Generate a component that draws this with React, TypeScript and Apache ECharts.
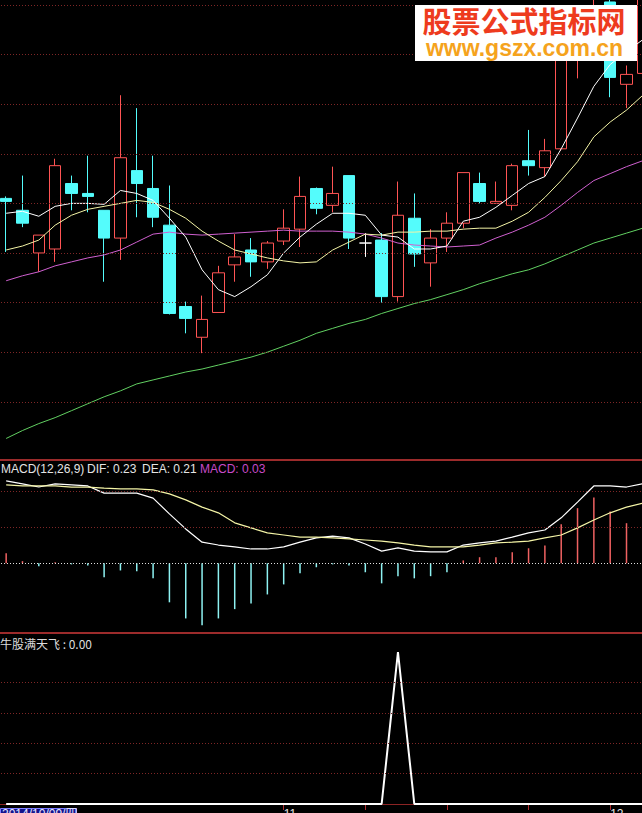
import React, { useEffect, useRef } from "react";
import * as echarts from "echarts";

const dates = [
  "2014/10/09", "2014/10/10", "2014/10/13", "2014/10/14", "2014/10/15", "2014/10/16", "2014/10/17",
  "2014/10/20", "2014/10/21", "2014/10/22", "2014/10/23", "2014/10/24", "2014/10/27", "2014/10/28",
  "2014/10/29", "2014/10/30", "2014/10/31", "2014/11/03", "2014/11/04", "2014/11/05", "2014/11/06",
  "2014/11/07", "2014/11/10", "2014/11/11", "2014/11/12", "2014/11/13", "2014/11/14", "2014/11/17",
  "2014/11/18", "2014/11/19", "2014/11/20", "2014/11/21", "2014/11/24", "2014/11/25", "2014/11/26",
  "2014/11/27", "2014/11/28", "2014/12/01", "2014/12/02", "2014/12/03",
];

const kOpen = [
  12.05, 11.93, 11.5, 11.54, 12.2, 12.1, 11.93, 11.65, 12.33, 12.15,
  11.78, 10.96, 10.65, 10.9, 11.38, 11.53, 11.41, 11.62, 11.74, 12.15,
  11.98, 12.28, 11.6, 11.63, 11.06, 11.85, 11.4, 11.65, 11.8, 12.2,
  12.0, 11.98, 12.43, 12.36, 12.55, 13.47, 13.6, 14.03, 13.2, 13.31,
];
const kClose = [
  12.02, 11.8, 11.68, 12.38, 12.1, 12.07, 11.65, 12.46, 12.2, 11.86,
  10.89, 10.84, 10.83, 11.3, 11.46, 11.41, 11.6, 11.75, 12.07, 11.95,
  12.1, 11.65, 11.6, 11.06, 11.88, 11.49, 11.65, 11.8, 12.31, 12.02,
  12.02, 12.38, 12.38, 12.53, 13.45, 13.58, 13.99, 13.27, 13.3, 14.15,
];
const kLow = [
  11.51, 11.76, 11.31, 11.41, 11.93, 11.91, 11.21, 11.43, 11.86, 11.76,
  10.88, 10.69, 10.49, 10.9, 11.21, 11.26, 11.34, 11.58, 11.56, 11.89,
  11.91, 11.54, 11.46, 11.0, 11.01, 11.36, 11.16, 11.51, 11.75, 12.0,
  12.0, 11.93, 12.28, 12.27, 12.53, 13.26, 13.55, 13.07, 12.96, 13.24,
];
const kHigh = [
  12.07, 12.28, 11.68, 12.45, 12.28, 12.48, 11.93, 13.09, 12.96, 12.48,
  12.18, 11.01, 11.07, 11.37, 11.69, 11.65, 11.62, 11.94, 12.27, 12.16,
  12.37, 12.28, 11.7, 11.7, 12.22, 12.1, 11.74, 11.91, 12.31, 12.31,
  12.22, 12.4, 12.74, 12.65, 13.5, 13.75, 14.1, 14.13, 13.39, 14.2,
];

const ma5 = [
  11.9, 11.92, 11.87, 11.97, 12.0, 12.0, 11.99, 12.13, 12.1, 12.03,
  11.85, 11.66, 11.33, 11.13, 11.06, 11.16, 11.28, 11.5, 11.66, 11.79,
  11.9, 11.9, 11.88, 11.68, 11.66, 11.54, 11.54, 11.57, 11.82, 11.86,
  11.96, 12.08, 12.2, 12.27, 12.55, 12.86, 13.18, 13.4, 13.53, 13.65,
];
const ma10 = [
  11.53, 11.57, 11.63, 11.78, 11.88, 11.94, 11.97, 12.0, 12.03, 12.01,
  11.94, 11.85, 11.72, 11.62, 11.53, 11.49, 11.45, 11.42, 11.4, 11.41,
  11.53, 11.61, 11.69, 11.68, 11.71, 11.71, 11.72, 11.72, 11.74, 11.75,
  11.75, 11.82, 11.91, 12.06, 12.23, 12.42, 12.67, 12.82, 12.94, 13.09,
];
const ma20 = [
  11.22, 11.27, 11.31, 11.37, 11.41, 11.45, 11.48, 11.53, 11.61, 11.69,
  11.71, 11.69, 11.68, 11.69, 11.7, 11.71, 11.72, 11.73, 11.72, 11.72,
  11.72, 11.71, 11.69, 11.65, 11.6, 11.58, 11.57, 11.56, 11.57, 11.58,
  11.65, 11.71, 11.78, 11.86, 11.98, 12.11, 12.23, 12.3, 12.37, 12.43,
];
const ma60 = [
  9.63, 9.71, 9.78, 9.84, 9.91, 9.98, 10.05, 10.11, 10.18, 10.22,
  10.26, 10.3, 10.33, 10.37, 10.41, 10.45, 10.5, 10.56, 10.62, 10.69,
  10.74, 10.79, 10.83, 10.89, 10.94, 10.99, 11.03, 11.08, 11.13, 11.19,
  11.24, 11.29, 11.33, 11.39, 11.46, 11.53, 11.6, 11.65, 11.7, 11.75,
];

const dif = [
  0.23, 0.222, 0.213, 0.222, 0.219, 0.216, 0.196, 0.196, 0.196, 0.182,
  0.138, 0.096, 0.059, 0.051, 0.046, 0.04, 0.04, 0.046, 0.059, 0.071,
  0.076, 0.071, 0.054, 0.034, 0.043, 0.034, 0.032, 0.032, 0.051, 0.057,
  0.062, 0.073, 0.085, 0.093, 0.127, 0.171, 0.216, 0.216, 0.213, 0.222,
];
const dea = [
  0.219, 0.216, 0.216, 0.216, 0.213, 0.213, 0.21, 0.208, 0.208, 0.205,
  0.194, 0.177, 0.157, 0.141, 0.113, 0.099, 0.085, 0.079, 0.073, 0.073,
  0.071, 0.068, 0.065, 0.062, 0.057, 0.051, 0.046, 0.046, 0.046, 0.051,
  0.057, 0.059, 0.062, 0.071, 0.079, 0.099, 0.121, 0.141, 0.157, 0.168,
];
const macd = [
  0.028, 0.006, -0.008, 0.003, -0.003, -0.006, -0.039, -0.02, -0.022, -0.042,
  -0.109, -0.154, -0.173, -0.154, -0.128, -0.112, -0.087, -0.059, -0.028, -0.011,
  -0.003, -0.006, -0.025, -0.056, -0.036, -0.042, -0.036, -0.025, 0.008, 0.017,
  0.017, 0.031, 0.042, 0.05, 0.109, 0.154, 0.184, 0.145, 0.112, 0.106,
];
const signal = [
  0, 0, 0, 0, 0, 0, 0, 0, 0, 0,
  0, 0, 0, 0, 0, 0, 0, 0, 0, 0,
  0, 0, 0, 0, 1, 0, 0, 0, 0, 0,
  0, 0, 0, 0, 0, 0, 0, 0, 0, 0,
];

const priceGridLevels = [10, 10.5, 11, 11.5, 12, 12.5, 13, 13.5, 14];
const macdGridLevels = [0.1, 0.2];
const signalGridLevels = [0.2, 0.4, 0.6, 0.8];
const tickIndexes = [17, 22, 27, 32, 37];

const macdTitle = "MACD(12,26,9)";
const difLabel = "DIF: 0.23";
const deaLabel = "DEA: 0.21";
const macdLabel = "MACD: 0.03";
const signalLabel = "牛股满天飞 : 0.00";
const watermarkCn = "股票公式指标网";
const watermarkUrl = "www.gszx.com.cn";

const RED = "#ff5454";
const CYAN = "#54fcfc";
const GRID_RED = "#7e2626";
const SANS = '"Liberation Sans", Arial, "Noto Sans CJK SC", sans-serif';
const CJK = '"Noto Sans CJK SC", "Liberation Sans", sans-serif';

export default function App() {
  const ref = useRef<HTMLDivElement>(null);

  useEffect(() => {
    if (!ref.current) return;
    const chart = echarts.init(ref.current, null, { renderer: "svg" });

    const candleData = kOpen.map((o, i) => {
      const v = [o, kClose[i], kLow[i], kHigh[i]];
      if (o === kClose[i]) {
        return {
          value: v,
          itemStyle: { color: "#ffffff", color0: "#ffffff", borderColor: "#ffffff", borderColor0: "#ffffff" },
        };
      }
      return v;
    });

    const monthStarts = dates
      .map((d, i) => (i > 0 && d.slice(5, 7) !== dates[i - 1].slice(5, 7) ? i : -1))
      .filter((i) => i >= 0);

    const d0 = dates[0].split("/").map(Number);
    const weekday = "日一二三四五六"[new Date(d0[0], d0[1] - 1, d0[2]).getDay()];
    const cursorDate = `${dates[0]}/${weekday}`;

    const hiddenX = (gridIndex: number) => ({
      type: "category",
      gridIndex,
      data: dates,
      boundaryGap: true,
      show: false,
    });
    const hiddenY = (gridIndex: number, min: number, max: number) => ({
      type: "value",
      gridIndex,
      min,
      max,
      show: false,
      splitLine: { show: false },
      axisLine: { show: false },
      axisTick: { show: false },
      axisLabel: { show: false },
    });

    const dotted = (color: string) => ({ color, type: [1, 2], width: 1 });

    const option: any = {
      animation: false,
      backgroundColor: "#000000",
      grid: [
        { left: -2, width: 653, top: 0, height: 459, outerBoundsMode: "none" },
        {
          left: -2, width: 653, top: 460, height: 173, outerBoundsMode: "none",
          show: true, borderColor: "#9c2b2b", borderWidth: 2, backgroundColor: "transparent",
        },
        { left: -2, width: 653, top: 634, height: 172, outerBoundsMode: "none" },
      ],
      xAxis: [
        hiddenX(0),
        hiddenX(1),
        {
          type: "category",
          gridIndex: 2,
          data: dates,
          boundaryGap: true,
          axisLine: { show: true, lineStyle: { color: "#8c2424", width: 1 } },
          axisTick: {
            show: true,
            alignWithLabel: true,
            length: 6,
            interval: (i: number) => tickIndexes.includes(i),
            lineStyle: { color: "#b03030" },
          },
          axisLabel: {
            show: true,
            interval: (i: number) => monthStarts.includes(i),
            formatter: (v: string) => String(Number(v.slice(5, 7))),
            color: "#e8e8e8",
            fontSize: 12,
            fontFamily: SANS,
            margin: 2,
            align: "left",
          },
          splitLine: { show: false },
        },
      ],
      yAxis: [
        hiddenY(0, 9.423, 14.05),
        hiddenY(1, -0.1947, 0.2885),
        hiddenY(2, -0.0132, 1.1184),
      ],
      series: [
        {
          type: "line",
          name: "MA60",
          xAxisIndex: 0,
          yAxisIndex: 0,
          data: ma60,
          symbol: "none",
          lineStyle: { color: "#62d062", width: 1 },
          z: 1,
          markLine: {
            silent: true,
            animation: false,
            symbol: ["none", "none"],
            label: { show: false },
            lineStyle: dotted(GRID_RED),
            data: priceGridLevels.map((v) => ({ yAxis: v })),
          },
        },
        {
          type: "candlestick",
          xAxisIndex: 0,
          yAxisIndex: 0,
          data: candleData,
          barWidth: 12,
          clip: true,
          z: 2,
          itemStyle: {
            color: "#000000",
            color0: CYAN,
            borderColor: RED,
            borderColor0: CYAN,
            borderWidth: 1,
          },
        },
        {
          type: "line", name: "MA20", xAxisIndex: 0, yAxisIndex: 0, data: ma20,
          symbol: "none", lineStyle: { color: "#d060d0", width: 1 }, z: 3,
        },
        {
          type: "line", name: "MA10", xAxisIndex: 0, yAxisIndex: 0, data: ma10,
          symbol: "none", lineStyle: { color: "#f4f4a6", width: 1 }, z: 3,
        },
        {
          type: "line", name: "MA5", xAxisIndex: 0, yAxisIndex: 0, data: ma5,
          symbol: "none", lineStyle: { color: "#ffffff", width: 1 }, z: 3,
        },
        {
          type: "bar",
          name: "MACD",
          xAxisIndex: 1,
          yAxisIndex: 1,
          data: macd,
          barWidth: 1.5,
          z: 1,
          itemStyle: { color: (p: any) => (p.value >= 0 ? "#f06262" : "#8ef2f2") },
          markLine: {
            silent: true,
            animation: false,
            symbol: ["none", "none"],
            label: { show: false },
            lineStyle: dotted(GRID_RED),
            data: [
              { yAxis: 0, lineStyle: dotted("#e0e0e0") },
              ...macdGridLevels.map((v) => ({ yAxis: v })),
            ],
          },
        },
        {
          type: "line", name: "DIF", xAxisIndex: 1, yAxisIndex: 1, data: dif,
          symbol: "none", lineStyle: { color: "#ffffff", width: 1.2 }, z: 3,
        },
        {
          type: "line", name: "DEA", xAxisIndex: 1, yAxisIndex: 1, data: dea,
          symbol: "none", lineStyle: { color: "#f4f4a6", width: 1.2 }, z: 3,
        },
        {
          type: "line",
          name: "牛股满天飞",
          xAxisIndex: 2,
          yAxisIndex: 2,
          data: signal,
          symbol: "none",
          lineStyle: { color: "#ffffff", width: 2 },
          z: 3,
          markLine: {
            silent: true,
            animation: false,
            symbol: ["none", "none"],
            label: { show: false },
            lineStyle: dotted(GRID_RED),
            data: signalGridLevels.map((v) => ({ yAxis: v })),
          },
        },
      ],
      graphic: [
        {
          type: "rect",
          shape: { x: 415, y: 5, width: 222, height: 56 },
          style: { fill: "#ffffff" },
          z: 100,
        },
        {
          type: "text",
          x: 524,
          y: 20,
          z: 101,
          style: {
            text: watermarkCn,
            fill: "#ee3b1e",
            fontSize: 29,
            fontWeight: "bold",
            fontFamily: CJK,
            align: "center",
            verticalAlign: "middle",
            textAlign: "center",
            textVerticalAlign: "middle",
          },
        },
        {
          type: "text",
          x: 524.5,
          y: 48,
          z: 101,
          style: {
            text: watermarkUrl,
            fill: "#f5a31d",
            fontSize: 23,
            fontWeight: "bold",
            fontFamily: SANS,
            align: "center",
            verticalAlign: "middle",
            textAlign: "center",
            textVerticalAlign: "middle",
          },
        },
        ...[
          { x: 1, text: macdTitle, fill: "#e4e4e4" },
          { x: 87, text: difLabel, fill: "#e4e4e4" },
          { x: 142, text: deaLabel, fill: "#e4e4e4" },
          { x: 200, text: macdLabel, fill: "#c84ac8" },
        ].map((t) => ({
          type: "text",
          x: t.x,
          y: 463,
          z: 50,
          style: {
            text: t.text,
            fill: t.fill,
            fontSize: 12,
            fontFamily: SANS,
            align: "left",
            verticalAlign: "top",
            textAlign: "left",
            textVerticalAlign: "top",
          },
        })),
        {
          type: "text",
          x: 0,
          y: 637,
          z: 50,
          style: {
            text: signalLabel,
            fill: "#dcdcdc",
            fontSize: 12,
            fontFamily: CJK,
            align: "left",
            verticalAlign: "top",
            textAlign: "left",
            textVerticalAlign: "top",
          },
        },
        {
          type: "rect",
          shape: { x: 0.5, y: 808.5, width: 76, height: 14 },
          style: { fill: "#14148c", stroke: "#7f7fff", lineWidth: 1 },
          z: 50,
        },
        {
          type: "text",
          x: 2,
          y: 808,
          z: 51,
          style: {
            text: cursorDate,
            fill: "#e8e8ff",
            fontSize: 12,
            fontFamily: SANS,
            align: "left",
            verticalAlign: "top",
            textAlign: "left",
            textVerticalAlign: "top",
          },
        },
      ],
    };

    chart.setOption(option);
    return () => chart.dispose();
  }, []);

  return (
    <div
      ref={ref}
      style={{ position: "fixed", left: 0, top: 0, width: 642, height: 813, background: "#000000" }}
    />
  );
}
